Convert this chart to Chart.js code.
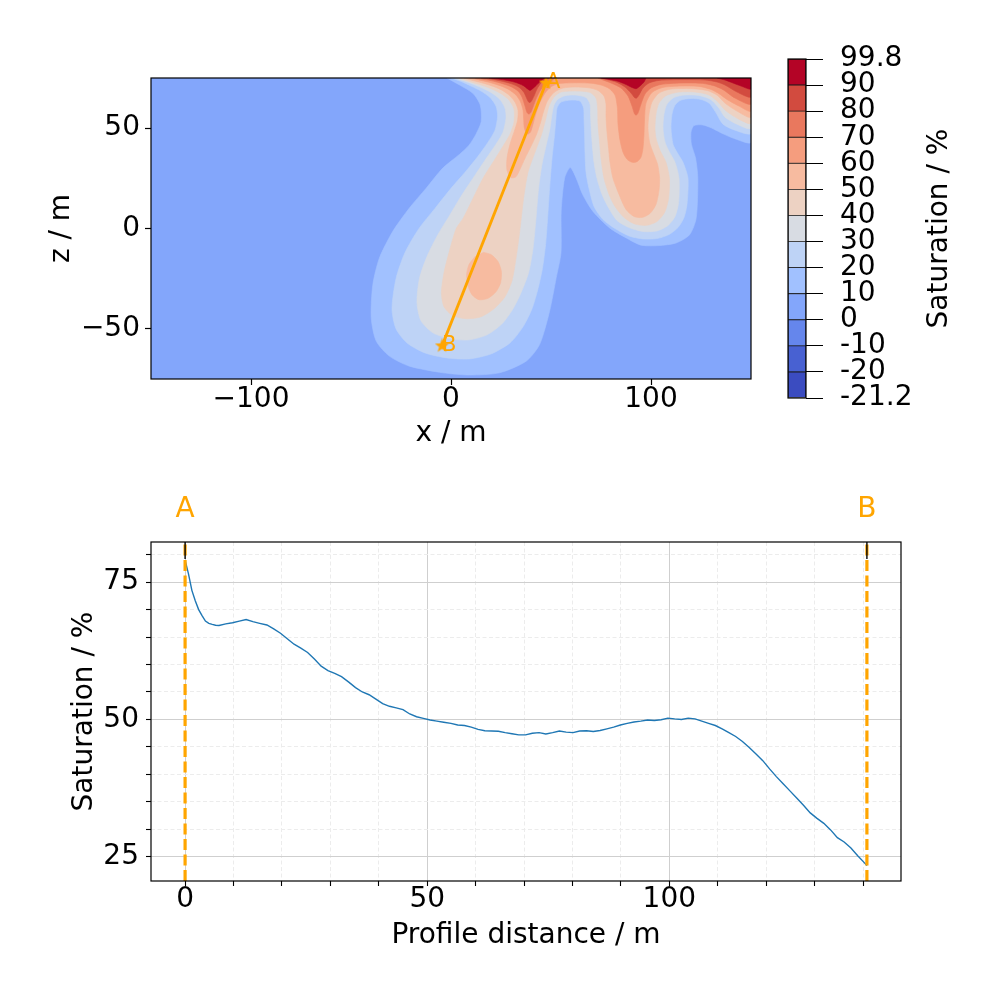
<!DOCTYPE html>
<html>
<head>
<meta charset="utf-8">
<script src="https://cdn.jsdelivr.net/npm/chart.js@4.4.1/dist/chart.umd.min.js"></script>
<style>
  html, body { margin: 0; padding: 0; background: #fff; }
  #wrap { position: relative; width: 1000px; height: 1000px; }
  canvas { position: absolute; }
</style>
</head>
<body>
<div id="wrap">
  <canvas id="map" width="780" height="460" style="left:0;top:0"></canvas>
  <canvas id="cbar" width="240" height="460" style="left:760px;top:0"></canvas>
  <canvas id="profile" width="1000" height="540" style="left:0;top:460px"></canvas>
</div>
<script>
// colour levels of the saturation field (coolwarm, 13 bands)
const bandBounds = ['-21.2', '-20', '-10', '0', '10', '20', '30', '40', '50', '60', '70', '80', '90', '99.8'];
const bandColors = ['#3b4cc0', '#4861d2', '#6586ec', '#83a6fb', '#a1c1ff', '#bed3f6', '#d8dce3',
                    '#edd2c3', '#f7bba0', '#f59d7e', '#e9785e', '#d24b3f', '#b40426'];

// map extent and ticks
const mapX = [-150, 150];
const mapZ = [-75, 75];
const mapXTicks = [-100, 0, 100];
const mapZTicks = [-50, 0, 50];

// regions where saturation >= level, as [x, z] outlines
const sat0 = [[-150, -75], [150, -75], [150, 75], [-150, 75]];
const sat10 = [[-2.1, 75], [4.3, 71.5], [10.9, 67.4], [14.6, 61.6], [15.1, 53.3], [12.5, 47], [9, 41.5], [4.3, 37],
  [-4.1, 30.1], [-12.4, 20.1], [-20.8, 10.2], [-29.1, -1.4], [-35.8, -14.7], [-39.1, -28], [-39.9, -44.5],
  [-37.4, -56.1], [-30.8, -63.6], [-20.8, -68.6], [-4.1, -71.9], [9.3, -73], [24.3, -71.9], [37.6, -66.1],
  [44.3, -57.8], [49.3, -41.2], [52.6, -24.6], [55, -12], [55.1, 8.6], [56.8, 25.1], [59.6, 30.4], [62.6, 25.1],
  [65.9, 16.8], [70.9, 8.6], [79.3, 0.3], [87.6, -4.7], [95, -8.3], [104, -8.5], [112.6, -7.2], [119.3, -3.1],
  [122.6, 5.2], [123.4, 25.1], [122.3, 35], [120.2, 42], [120, 48], [121.5, 51.3], [125.9, 51.6], [130, 50.2],
  [136, 47.2], [142.6, 44.5], [150, 43], [150, 75]];
const sat20 = [[0, 75], [5, 73.3], [10, 71], [15, 68.5], [19.5, 65.3], [22.5, 61], [23.3, 56], [22, 49], [18.5, 43],
  [13.5, 36], [7, 28], [0, 20], [-8, 10], [-16, 0], [-23, -12], [-27.5, -25], [-29.5, -40], [-27.5, -50], [-22, -57],
  [-13, -62], [-2, -64.5], [9, -65], [20, -62.5], [29.5, -57], [36, -49], [40.5, -40], [43.5, -30], [45.7, -20],
  [47.3, -8], [48.3, 5], [49.3, 20], [50.5, 35], [51.8, 47], [52.5, 55], [53, 60], [55, 63], [60, 64], [64.5, 63.5],
  [66.3, 60], [66.5, 55], [66.8, 47], [67, 38], [67.5, 28], [69, 20], [71.5, 11], [76, 4.5], [82, 0], [89, -3.7],
  [96, -5.2], [103, -5], [109, -3], [113.5, 0.5], [116.5, 5.5], [118, 12], [118.5, 25], [116, 33], [113, 38],
  [111, 42], [110, 50], [110.5, 57], [112, 61.5], [115, 64], [120, 64.8], [125, 64.3], [129, 62.5], [132, 58.5],
  [136, 52], [142, 49], [150, 47.5], [150, 75]];
const sat30 = [[2, 75], [5, 74], [10, 72.3], [15, 70.3], [20, 67.8], [24.5, 64.3], [27, 60], [27.5, 55], [26, 48],
  [22.5, 42], [17, 34], [11, 25], [5, 16], [-1, 6], [-6.5, -3], [-12, -14], [-15.8, -25], [-17, -37], [-15, -46],
  [-9, -52], [0, -55], [9, -55.5], [18, -53], [25.5, -47.5], [31, -40], [35, -32], [38.8, -22], [41, -10],
  [42.5, 5], [43.8, 20], [45.5, 32], [47.7, 42], [49.5, 50], [50.5, 57], [51.5, 61.5], [53.5, 64.5], [57, 66.2],
  [62, 66.5], [67.5, 65.3], [69.5, 62], [69.8, 56], [70.2, 48], [70.8, 40], [71.5, 33], [73, 25], [75.5, 17],
  [79, 10], [83, 4], [89, 0.5], [96, -1.5], [103, -1.2], [108.5, 1.5], [112, 6], [113.8, 13], [114, 25], [112, 33],
  [109, 38.5], [107, 43], [106, 50], [106.5, 57], [108, 62], [111.5, 65.3], [117, 66.5], [124, 66.3], [130, 64.2],
  [134, 60], [137, 55.5], [143, 52], [150, 50], [150, 75]];
const sat40 = [[4, 75], [5, 74.6], [10, 73], [15, 71.5], [20, 69.7], [25, 67.2], [29, 64], [31.5, 59.5], [31.5, 53],
  [29.5, 47], [26, 41], [21, 33], [16, 25], [11, 15], [6, 5], [2.6, 0], [-1, -12], [-3.5, -22], [-4.8, -32],
  [-3.5, -39], [1, -43.5], [8, -45], [15, -44], [21.5, -40], [27, -34], [30.5, -26], [32.5, -15], [34.3, -2],
  [36.3, 15], [38.5, 28], [42, 38], [45.3, 47], [47.5, 55], [49, 61], [51.5, 65.5], [55, 68], [62, 68.5],
  [69.5, 67.8], [72.5, 65], [73.3, 60], [73.5, 52], [74.2, 44], [75, 35], [76.5, 25], [79, 17], [82, 11],
  [86.5, 5.5], [92, 2.2], [98, 1.6], [103, 3.5], [106.8, 8], [108.8, 15], [109.2, 25], [107.5, 33], [104.5, 39],
  [102.5, 45], [102, 50], [102.5, 57], [104, 62.5], [107.5, 66.2], [114, 68], [122, 68], [129, 66.5], [133.5, 63],
  [137, 59], [143, 55], [150, 52.5], [150, 75]];
const sat50 = [[6.5, 75], [10, 74], [15, 72.7], [20, 71.2], [25, 69.2], [29, 66.5], [32, 63], [33.5, 59], [33.3, 54],
  [31.5, 48], [29.5, 42], [28, 35], [28, 29], [30, 25.3], [32.5, 25.8], [34.5, 29.5], [37, 35], [40, 41], [42.8, 47],
  [44.8, 53], [46.2, 58], [48.2, 63.5], [51.5, 67.8], [56, 70], [62, 70.5], [69, 70.1], [73.5, 68.8], [76.5, 66],
  [77.5, 62], [77.5, 56], [78, 48], [78.8, 40], [79.5, 33], [81, 25], [84, 17], [87.5, 9.5], [91.5, 6], [95.5, 5.5],
  [99.5, 7.5], [102.5, 12], [104, 19], [104.3, 25], [103.3, 32], [101, 38], [99.3, 43], [98.5, 50], [99, 57],
  [100.5, 63], [104, 67.5], [110, 69.5], [120, 69.7], [128, 68.8], [133, 66.5], [137, 62.5], [143, 58.5],
  [150, 55.5], [150, 75]];
const blob50 = [[16, -11.8], [20, -13], [23.5, -16.5], [25.2, -21.5], [24.8, -27], [22.5, -31.5], [18.5, -34.8],
  [14, -35.5], [10.5, -33], [8.5, -28.5], [7.8, -23], [9, -18], [12, -14]];
const sat60 = [[9, 75], [12, 74.5], [16, 73.6], [20, 72.6], [25, 71], [29, 69.2], [32.5, 66.5], [34.8, 63], [36, 59],
  [36.3, 55], [36.6, 50.5], [37.5, 47.8], [38.5, 47], [39.8, 48.2], [41, 52], [42.5, 57.5], [44.5, 63], [47, 67.5],
  [50, 70.6], [54, 72.2], [62, 72.6], [70, 72.4], [75, 71.5], [79, 69.8], [82, 66.5], [83.2, 60], [83.5, 52],
  [84.5, 44], [86, 38], [88, 34.5], [90.5, 33], [93, 33.3], [95, 35.5], [96, 40], [96.5, 47], [96.8, 55],
  [97.5, 62.5], [100.5, 67.8], [106, 70.3], [115, 71], [124, 70.8], [130, 69.3], [134, 67.2], [138, 64.3],
  [144, 61], [150, 58.5], [150, 75]];
const sat70a = [[12, 75], [15, 74.6], [20, 73.7], [25, 72.4], [30, 70.7], [33.5, 68.5], [35.5, 65.5], [37, 61],
  [38, 57.8], [39, 57], [40, 58], [41.2, 61], [42.5, 64.5], [44.5, 68.5], [47, 71.5], [50, 73.5], [52, 75]];
const sat70b = [[73.5, 75], [76, 74], [80, 72.5], [85, 70], [88.5, 66], [90.5, 61], [91.8, 57], [92.6, 56.5],
  [93.5, 57.5], [95, 62], [97, 67], [100, 70], [105, 71.8], [115, 72.5], [125, 72.4], [131, 71.3], [136, 69.2],
  [142, 65], [150, 62], [150, 75]];
const sat80a = [[15, 75], [20, 74.5], [25, 73.5], [30, 72.2], [34, 70.4], [36.5, 67.8], [38, 64.5], [39, 62.8],
  [40, 63.2], [41.5, 66], [43, 69.5], [45, 72.5], [47.5, 74.3], [49, 75]];
const sat80b = [[74.5, 75], [78, 74.2], [83, 72.8], [87, 70.5], [90, 67.5], [91.8, 65.2], [92.8, 65], [94, 66.5],
  [96, 70], [99, 72.5], [104, 73.8], [115, 74.2], [127, 74], [133, 73], [137, 71.5], [143, 68], [150, 65.5],
  [150, 75]];
const sat90a = [[19, 75], [22, 74.7], [27, 74], [32, 72.9], [36, 71.3], [38.5, 69.4], [39.5, 68.8], [40.5, 69.4],
  [42.5, 71.2], [44.5, 73.2], [46, 74.4], [47, 75]];
const sat90b = [[75, 75], [78, 74.5], [83, 73.5], [87, 72], [90.5, 70.3], [92.6, 69.7], [94.5, 71], [96.5, 73],
  [97.5, 75]];
const sat90c = [[133, 75], [137, 74], [141, 72.5], [145, 71], [150, 69.5], [150, 75]];

const regions = [
  { level: '0', pts: sat0 }, { level: '10', pts: sat10 }, { level: '20', pts: sat20 },
  { level: '30', pts: sat30 }, { level: '40', pts: sat40 }, { level: '50', pts: sat50 },
  { level: '50', pts: blob50 }, { level: '60', pts: sat60 }, { level: '70', pts: sat70a },
  { level: '70', pts: sat70b }, { level: '80', pts: sat80a }, { level: '80', pts: sat80b },
  { level: '90', pts: sat90a }, { level: '90', pts: sat90b }, { level: '90', pts: sat90c }
];

// profile line A -> B on the map
const profileA = [47.5, 72.5];
const profileB = [-4.5, -58.5];
const endLabels = ['A', 'B'];

// saturation along the profile
const dist = [0, 0.7, 1.4, 2.1, 2.8, 3.5, 4.2, 4.9, 5.6, 6.3, 7.0, 8.4, 9.8, 11.2, 12.6, 14.0, 15.4, 16.9, 18.3,
  19.7, 21.1, 22.5, 23.9, 25.3, 26.7, 28.1, 29.5, 30.9, 32.3, 33.8, 35.2, 36.6, 38.0, 39.4, 40.8, 42.2, 43.6, 45.0,
  46.4, 47.8, 49.2, 50.6, 52.0, 53.4, 54.9, 56.3, 57.7, 59.1, 60.5, 61.9, 63.3, 64.7, 66.1, 67.5, 68.9, 70.3, 71.7,
  73.1, 74.5, 75.9, 77.3, 78.7, 80.1, 81.5, 82.9, 84.3, 85.7, 87.1, 88.5, 89.9, 91.3, 92.7, 94.1, 95.5, 96.9, 98.3,
  99.7, 101.1, 102.5, 103.9, 105.3, 106.7, 108.1, 109.5, 110.9, 112.3, 113.7, 115.1, 116.5, 117.9, 119.3, 120.7,
  122.1, 123.5, 124.9, 126.3, 127.7, 129.1, 130.5, 131.9, 133.3, 134.7, 136.1, 137.5, 138.9, 140.3, 140.8];
const sat = [79.0, 76.5, 73.5, 71.6, 70.0, 68.9, 67.9, 67.5, 67.3, 67.15, 67.1, 67.4, 67.6, 67.9, 68.2, 67.8, 67.5,
  67.2, 66.5, 65.7, 64.7, 63.7, 63.0, 62.2, 61.0, 59.7, 58.9, 58.4, 57.8, 56.8, 55.8, 55.0, 54.5, 53.7, 52.9, 52.4,
  52.1, 51.8, 51.0, 50.5, 50.2, 49.9, 49.7, 49.5, 49.3, 49.0, 48.9, 48.6, 48.2, 47.95, 47.9, 47.85, 47.6, 47.4,
  47.2, 47.2, 47.5, 47.6, 47.35, 47.6, 47.9, 47.7, 47.6, 47.9, 47.95, 47.8, 48.0, 48.3, 48.6, 49.0, 49.3, 49.55,
  49.7, 49.9, 49.8, 49.95, 50.25, 50.1, 50.0, 50.25, 50.1, 49.7, 49.3, 48.9, 48.3, 47.6, 46.9, 46.0, 44.9, 43.7,
  42.5, 41.0, 39.6, 38.3, 37.0, 35.7, 34.4, 33.0, 32.0, 31.1, 29.9, 28.5, 27.7, 26.6, 25.2, 23.9, 23.4];
const profileEnds = [0, 140.8];
const distRange = [-7.04, 147.84];
const satRange = [20.6, 82.3];
const distTicks = [0, 10, 20, 30, 40, 50, 60, 70, 80, 90, 100, 110, 120, 130, 140];
const distMajor = [0, 50, 100];
const satTicks = [25, 30, 35, 40, 45, 50, 55, 60, 65, 70, 75, 80];
const satMajor = [25, 50, 75];

const ORANGE = '#ffa500';
Chart.defaults.font.family = "'DejaVu Sans', sans-serif";
Chart.defaults.font.size = 28;
Chart.defaults.font.lineHeight = 1;
Chart.defaults.color = '#000';

function minus(v) {
  return v < 0 ? '\u2212' + Math.abs(v) : String(v);
}

function starImage(size, color) {
  const c = document.createElement('canvas');
  c.width = c.height = size;
  const g = c.getContext('2d');
  g.fillStyle = color;
  g.beginPath();
  for (let i = 0; i < 10; i++) {
    const r = i % 2 === 0 ? size / 2 : size / 5;
    const a = -Math.PI / 2 + i * Math.PI / 5;
    const px = size / 2 + r * Math.cos(a), py = size / 2 + r * Math.sin(a);
    if (i === 0) g.moveTo(px, py); else g.lineTo(px, py);
  }
  g.closePath();
  g.fill();
  return c;
}

const frameBox = {
  id: 'frameBox',
  afterDraw(chart) {
    const { ctx, chartArea: a } = chart;
    ctx.save();
    ctx.strokeStyle = '#000';
    ctx.lineWidth = 1.2;
    ctx.strokeRect(a.left, a.top, a.right - a.left, a.bottom - a.top);
    ctx.restore();
  }
};

const endNames = {
  id: 'endNames',
  afterDatasetsDraw(chart) {
    const { ctx, scales: { x, y } } = chart;
    ctx.save();
    ctx.fillStyle = ORANGE;
    ctx.font = '21px "DejaVu Sans"';
    ctx.textAlign = 'left';
    ctx.textBaseline = 'middle';
    [profileA, profileB].forEach((p, i) => {
      ctx.fillText(endLabels[i], x.getPixelForValue(p[0]), y.getPixelForValue(p[1]));
    });
    ctx.restore();
  }
};

const cbTitle = {
  id: 'cbTitle',
  afterDraw(chart) {
    const { ctx, chartArea: a } = chart;
    ctx.save();
    ctx.translate(180, (a.top + a.bottom) / 2);
    ctx.rotate(-Math.PI / 2);
    ctx.font = '28px "DejaVu Sans"';
    ctx.fillStyle = '#000';
    ctx.textAlign = 'center';
    ctx.textBaseline = 'middle';
    ctx.fillText('Saturation / %', 0, 0);
    ctx.restore();
  }
};

const endTicks = {
  id: 'endTicks',
  afterDatasetsDraw(chart) {
    const { ctx, chartArea: a, scales: { x } } = chart;
    ctx.save();
    ctx.strokeStyle = '#000';
    ctx.lineWidth = 1.4;
    profileEnds.forEach(v => {
      const px = x.getPixelForValue(v);
      ctx.beginPath();
      ctx.moveTo(px, a.top);
      ctx.lineTo(px, a.top + 17);
      ctx.stroke();
    });
    ctx.restore();
  }
};

// ---------- map with filled contours ----------
const mapSets = regions.map(r => {
  const col = bandColors[bandBounds.indexOf(r.level)];
  return {
    data: r.pts.map(p => ({ x: p[0], y: p[1] })),
    showLine: true,
    fill: 'shape',
    backgroundColor: col,
    borderColor: col,
    borderWidth: 0.6,
    pointRadius: 0,
    tension: 0.25,
    order: 200 - Number(r.level)
  };
});
mapSets.push({
  data: [{ x: profileA[0], y: profileA[1] }, { x: profileB[0], y: profileB[1] }],
  showLine: true,
  borderColor: ORANGE,
  borderWidth: 2.8,
  pointStyle: starImage(15, ORANGE),
  pointRadius: 7,
  fill: false,
  order: 0
});

new Chart(document.getElementById('map'), {
  type: 'scatter',
  data: { datasets: mapSets },
  options: {
    responsive: false,
    animation: false,
    layout: { padding: { top: 78, right: 29, left: 0, bottom: 0 } },
    plugins: { legend: { display: false }, tooltip: { enabled: false } },
    scales: {
      x: {
        type: 'linear', min: mapX[0], max: mapX[1],
        afterBuildTicks: s => { s.ticks = mapXTicks.map(v => ({ value: v })); },
        afterFit: s => { s.height = 81; },
        ticks: { callback: v => minus(v), padding: 1, autoSkip: false, maxRotation: 0 },
        grid: { drawOnChartArea: false, tickLength: 6, tickColor: '#000', tickWidth: 1.2 },
        border: { display: false },
        title: { display: true, text: 'x / m', padding: { top: 0, bottom: 12 } }
      },
      y: {
        type: 'linear', min: mapZ[0], max: mapZ[1],
        afterBuildTicks: s => { s.ticks = mapZTicks.map(v => ({ value: v })); },
        afterFit: s => { s.width = 151; },
        ticks: { callback: v => minus(v), padding: 5, autoSkip: false },
        grid: { drawOnChartArea: false, tickLength: 6, tickColor: '#000', tickWidth: 1.2 },
        border: { display: false },
        title: { display: true, text: 'z / m', padding: { top: 48, bottom: 0 } }
      }
    }
  },
  plugins: [frameBox, endNames]
});

// ---------- colour bar ----------
new Chart(document.getElementById('cbar'), {
  type: 'bar',
  data: {
    labels: [''],
    datasets: bandColors.map(c => ({
      data: [1], backgroundColor: c, borderColor: '#1a1a1a', borderWidth: 0.8,
      borderSkipped: false, barPercentage: 1, categoryPercentage: 1
    }))
  },
  options: {
    responsive: false,
    animation: false,
    layout: { padding: { left: 28, top: 59, bottom: 62, right: 0 } },
    plugins: { legend: { display: false }, tooltip: { enabled: false } },
    scales: {
      x: { display: false, stacked: true },
      y: {
        stacked: true, position: 'right', min: 0, max: bandBounds.length - 1,
        afterBuildTicks: s => { s.ticks = bandBounds.map((b, i) => ({ value: i })); },
        afterFit: s => { s.width = 194; },
        ticks: { callback: v => bandBounds[v], padding: 17, autoSkip: false },
        grid: { drawOnChartArea: false, tickLength: 17, tickColor: '#000' },
        border: { display: false }
      }
    }
  },
  plugins: [frameBox, cbTitle]
});

// ---------- saturation profile ----------
const isMinor = (c, major) => c.tick && !major.includes(c.tick.value);
const profileSets = [{
  data: dist.map((d, i) => ({ x: d, y: sat[i] })),
  showLine: true,
  borderColor: '#1f77b4',
  borderWidth: 1.4,
  pointRadius: 0,
  order: 1
}];
profileEnds.forEach(e => {
  profileSets.push({
    data: [{ x: e, y: satRange[0] }, { x: e, y: satRange[1] }],
    showLine: true,
    borderColor: ORANGE,
    borderWidth: 3.2,
    borderDash: [11, 4.5],
    pointRadius: 0,
    order: 0
  });
});

new Chart(document.getElementById('profile'), {
  type: 'scatter',
  data: { datasets: profileSets },
  options: {
    responsive: false,
    animation: false,
    layout: { padding: { top: 0, right: 99, left: 0, bottom: 0 } },
    plugins: { legend: { display: false }, tooltip: { enabled: false } },
    scales: {
      x: {
        type: 'linear', position: 'bottom', min: distRange[0], max: distRange[1],
        afterBuildTicks: s => { s.ticks = distTicks.map(v => ({ value: v })); },
        afterFit: s => { s.height = 119; },
        ticks: { callback: v => distMajor.includes(v) ? String(v) : '', padding: 0, autoSkip: false, maxRotation: 0 },
        grid: {
          color: c => isMinor(c, distMajor) ? '#ececec' : '#cfcfcf',
          borderDash: c => isMinor(c, distMajor) ? [4, 2.5] : [],
          tickLength: 5, tickColor: '#000', tickWidth: 1.1
        },
        border: { display: false, dash: c => isMinor(c, distMajor) ? [4, 2.5] : [] },
        title: { display: true, text: 'Profile distance / m', padding: { top: 0, bottom: 50 } }
      },
      x2: {
        type: 'linear', position: 'top', min: distRange[0], max: distRange[1],
        afterBuildTicks: s => { s.ticks = profileEnds.map(v => ({ value: v })); },
        afterFit: s => { s.height = 82; },
        ticks: { callback: (v, i) => endLabels[i], color: ORANGE, padding: 18, autoSkip: false, maxRotation: 0 },
        grid: { display: false, drawTicks: false },
        border: { display: false }
      },
      y: {
        type: 'linear', min: satRange[0], max: satRange[1],
        afterBuildTicks: s => { s.ticks = satTicks.map(v => ({ value: v })); },
        afterFit: s => { s.width = 151; },
        ticks: { callback: v => satMajor.includes(v) ? String(v) : '', padding: 7, autoSkip: false },
        grid: {
          color: c => isMinor(c, satMajor) ? '#ececec' : '#cfcfcf',
          borderDash: c => isMinor(c, satMajor) ? [4, 2.5] : [],
          tickLength: 5, tickColor: '#000', tickWidth: 1.1
        },
        border: { display: false, dash: c => isMinor(c, satMajor) ? [4, 2.5] : [] },
        title: { display: true, text: 'Saturation / %', padding: { top: 71, bottom: 0 } }
      }
    }
  },
  plugins: [frameBox, endTicks]
});
</script>
</body>
</html>
